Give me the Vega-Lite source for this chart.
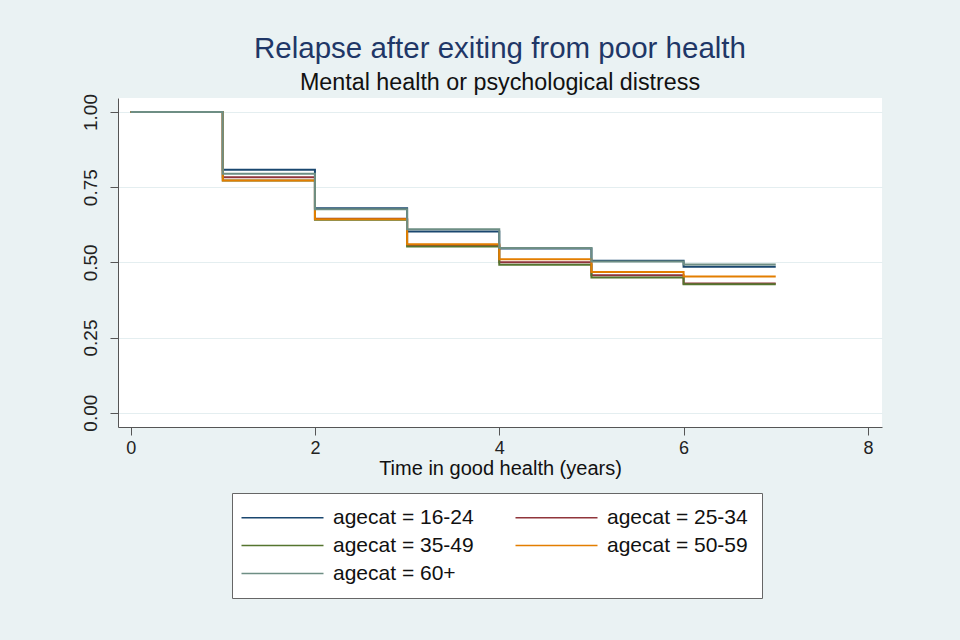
{
  "$schema": "https://vega.github.io/schema/vega-lite/v6.json",
  "autosize": {"type": "none"},
  "width": 764,
  "height": 329,
  "padding": {"left": 118, "top": 98, "right": 78, "bottom": 213},
  "background": "#eaf2f3",
  "title": {
    "text": "Relapse after exiting from poor health",
    "subtitle": "Mental health or psychological distress",
    "anchor": "middle",
    "font": "Liberation Sans",
    "fontSize": 29.5,
    "fontWeight": "normal",
    "color": "#1f3767",
    "subtitleFont": "Liberation Sans",
    "subtitleFontSize": 23.3,
    "subtitleColor": "#111111",
    "subtitlePadding": 8,
    "offset": -2
  },
  "data": {
    "values": [
      {"agecat": "agecat = 16-24", "t": 0, "s": 1.0},
      {"agecat": "agecat = 16-24", "t": 1, "s": 0.808},
      {"agecat": "agecat = 16-24", "t": 2, "s": 0.68},
      {"agecat": "agecat = 16-24", "t": 3, "s": 0.603},
      {"agecat": "agecat = 16-24", "t": 4, "s": 0.546},
      {"agecat": "agecat = 16-24", "t": 5, "s": 0.505},
      {"agecat": "agecat = 16-24", "t": 6, "s": 0.485},
      {"agecat": "agecat = 16-24", "t": 7, "s": 0.485},
      {"agecat": "agecat = 25-34", "t": 0, "s": 1.0},
      {"agecat": "agecat = 25-34", "t": 1, "s": 0.783},
      {"agecat": "agecat = 25-34", "t": 2, "s": 0.645},
      {"agecat": "agecat = 25-34", "t": 3, "s": 0.557},
      {"agecat": "agecat = 25-34", "t": 4, "s": 0.5},
      {"agecat": "agecat = 25-34", "t": 5, "s": 0.457},
      {"agecat": "agecat = 25-34", "t": 6, "s": 0.43},
      {"agecat": "agecat = 25-34", "t": 7, "s": 0.43},
      {"agecat": "agecat = 35-49", "t": 0, "s": 1.0},
      {"agecat": "agecat = 35-49", "t": 1, "s": 0.772},
      {"agecat": "agecat = 35-49", "t": 2, "s": 0.642},
      {"agecat": "agecat = 35-49", "t": 3, "s": 0.553},
      {"agecat": "agecat = 35-49", "t": 4, "s": 0.492},
      {"agecat": "agecat = 35-49", "t": 5, "s": 0.45},
      {"agecat": "agecat = 35-49", "t": 6, "s": 0.427},
      {"agecat": "agecat = 35-49", "t": 7, "s": 0.427},
      {"agecat": "agecat = 50-59", "t": 0, "s": 1.0},
      {"agecat": "agecat = 50-59", "t": 1, "s": 0.772},
      {"agecat": "agecat = 50-59", "t": 2, "s": 0.643},
      {"agecat": "agecat = 50-59", "t": 3, "s": 0.56},
      {"agecat": "agecat = 50-59", "t": 4, "s": 0.51},
      {"agecat": "agecat = 50-59", "t": 5, "s": 0.468},
      {"agecat": "agecat = 50-59", "t": 6, "s": 0.453},
      {"agecat": "agecat = 50-59", "t": 7, "s": 0.453},
      {"agecat": "agecat = 60+", "t": 0, "s": 1.0},
      {"agecat": "agecat = 60+", "t": 1, "s": 0.795},
      {"agecat": "agecat = 60+", "t": 2, "s": 0.677},
      {"agecat": "agecat = 60+", "t": 3, "s": 0.61},
      {"agecat": "agecat = 60+", "t": 4, "s": 0.548},
      {"agecat": "agecat = 60+", "t": 5, "s": 0.503},
      {"agecat": "agecat = 60+", "t": 6, "s": 0.493},
      {"agecat": "agecat = 60+", "t": 7, "s": 0.493}
    ]
  },
  "mark": {"type": "line", "interpolate": "step-after", "strokeWidth": 2, "clip": true},
  "encoding": {
    "x": {
      "field": "t", "type": "quantitative",
      "scale": {"domain": [-0.137, 8.153], "nice": false, "zero": false},
      "axis": {
        "title": "Time in good health (years)",
        "values": [0, 2, 4, 6, 8],
        "format": "d",
        "grid": false,
        "domainColor": "#555555",
        "tickColor": "#555555",
        "tickSize": 8,
        "labelFont": "Liberation Sans",
        "labelFontSize": 18,
        "labelColor": "#222222",
        "labelPadding": 4,
        "titleFont": "Liberation Sans",
        "titleFontSize": 20,
        "titleFontWeight": "normal",
        "titleColor": "#111111",
        "titlePadding": 1
      }
    },
    "y": {
      "field": "s", "type": "quantitative",
      "scale": {"domain": [-0.0476, 1.0466], "nice": false, "zero": false},
      "axis": {
        "title": null,
        "values": [0, 0.25, 0.5, 0.75, 1],
        "format": ".2f",
        "grid": true,
        "gridColor": "#e4eef0",
        "gridWidth": 1.2,
        "domainColor": "#555555",
        "tickColor": "#555555",
        "tickSize": 8,
        "labelAngle": 270,
        "labelFont": "Liberation Sans",
        "labelFontSize": 19,
        "labelColor": "#222222",
        "labelPadding": 10
      }
    },
    "color": {
      "field": "agecat", "type": "nominal",
      "scale": {
        "domain": ["agecat = 16-24", "agecat = 25-34", "agecat = 35-49", "agecat = 50-59", "agecat = 60+"],
        "range": ["#1a476f", "#90353b", "#55752f", "#e37e00", "#6e8e84"]
      },
      "legend": {
        "title": null,
        "orient": "none",
        "legendX": 114,
        "legendY": 395,
        "direction": "horizontal",
        "columns": 2,
        "symbolType": "M-15,0H67",
        "symbolSize": 4,
        "symbolStrokeWidth": 1.5,
        "labelOffset": 66,
        "labelFont": "Liberation Sans",
        "labelFontSize": 21,
        "labelColor": "#111111",
        "labelLimit": 300,
        "columnPadding": 38,
        "rowPadding": 6,
        "padding": 14,
        "fillColor": "white",
        "strokeColor": "#666666"
      }
    }
  },
  "config": {
    "view": {"fill": "white", "stroke": null}
  }
}
